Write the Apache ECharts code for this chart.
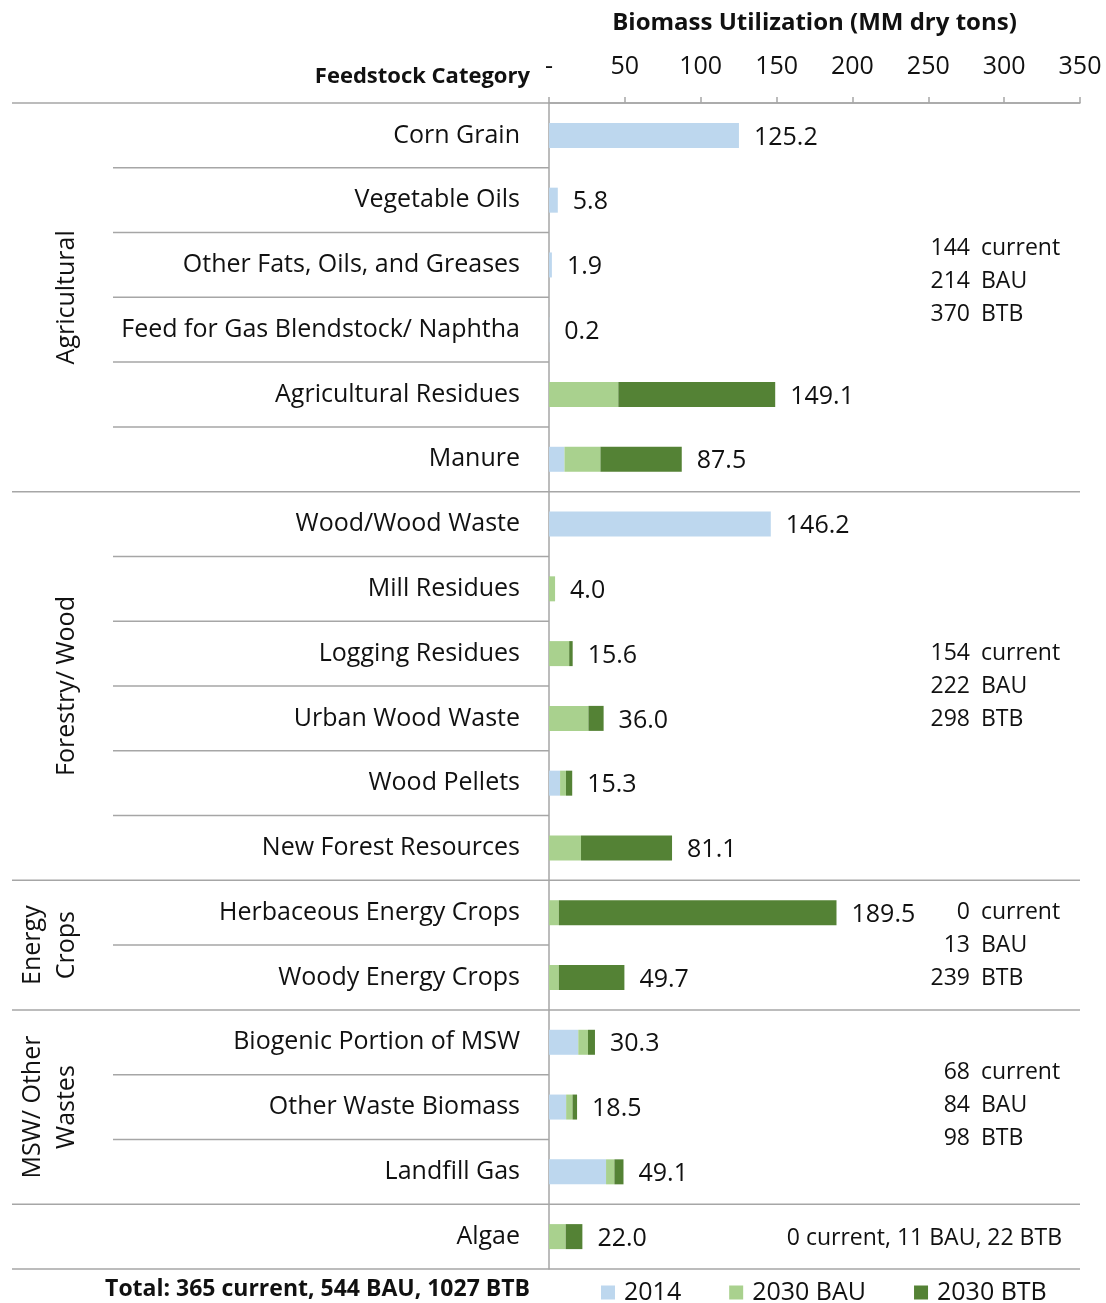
<!DOCTYPE html>
<html>
<head>
<meta charset="utf-8">
<script src="https://cdn.jsdelivr.net/npm/echarts@6/dist/echarts.min.js"></script>
<style>
html,body{margin:0;padding:0;background:#fff;}
#main{width:1106px;height:1303px;}
</style>
</head>
<body>
<div id="main"></div>
<script>
var categories = ['Corn Grain','Vegetable Oils','Other Fats, Oils, and Greases','Feed for Gas Blendstock/ Naphtha','Agricultural Residues','Manure','Wood/Wood Waste','Mill Residues','Logging Residues','Urban Wood Waste','Wood Pellets','New Forest Resources','Herbaceous Energy Crops','Woody Energy Crops','Biogenic Portion of MSW','Other Waste Biomass','Landfill Gas','Algae'];
var current2014 = [125.2, 5.8, 1.9, 0.2, 0, 10.2, 146.2, 0, 0, 0, 7.3, 0, 0, 0, 19.3, 11.3, 37.6, 0];
var bau2030 = [0, 0, 0, 0, 45.7, 23.7, 0, 4.0, 13.3, 26.0, 3.9, 21.1, 6.5, 6.5, 6.4, 4.2, 5.5, 11.0];
var btb2030 = [0, 0, 0, 0, 103.4, 53.6, 0, 0, 2.3, 10.0, 4.1, 60.0, 183.0, 43.2, 4.6, 3.0, 6.0, 11.0];
var totals = [125.2, 5.8, 1.9, 0.2, 149.1, 87.5, 146.2, 4.0, 15.6, 36.0, 15.3, 81.1, 189.5, 49.7, 30.3, 18.5, 49.1, 22.0];
var xTicks = ['-', '50', '100', '150', '200', '250', '300', '350'];
var seriesNames = ['2014', '2030 BAU', '2030 BTB'];
var groupNames = ['Agricultural', 'Forestry/ Wood', 'Energy\nCrops', 'MSW/ Other\nWastes', ''];
var groupStart = [0, 6, 12, 14, 17];
var groupEnd = [5, 11, 13, 16, 17];
var groupCurrent = ['144', '154', '0', '68'];
var groupBAU = ['214', '222', '13', '84'];
var groupBTB = ['370', '298', '239', '98'];
var algaeNote = '0 current, 11 BAU, 22 BTB';
var totalNote = 'Total: 365 current, 544 BAU, 1027 BTB';

var FONT = '"Open Sans", sans-serif';
var colors = ['#BDD7EE', '#A9D18E', '#548235'];
var lineColor = '#A6A6A6';
var ink = '#111';

var chart = echarts.init(document.getElementById('main'));
var option = {
  animation: false,
  textStyle: {fontFamily: FONT, color: ink},
  grid: {left: 549, right: 26, top: 103, height: 1166},
  legend: {
    data: seriesNames,
    left: 596, top: 1275,
    itemWidth: 14, itemHeight: 14, icon: 'rect', itemGap: 48,
    textStyle: {fontFamily: FONT, fontSize: 25, color: ink, padding: [0, 0, 0, 4]}
  },
  xAxis: {
    type: 'value', position: 'top', min: 0, max: 350, interval: 50,
    axisLine: {show: true, lineStyle: {color: lineColor, width: 1.5}},
    axisTick: {show: true, length: 6, lineStyle: {color: lineColor, width: 1.5}},
    splitLine: {show: false},
    axisLabel: {
      fontFamily: FONT, fontSize: 25, color: ink, margin: 24,
      formatter: function (v) { return xTicks[Math.round(v / 50)]; }
    }
  },
  yAxis: {
    type: 'category', data: categories, inverse: true,
    axisLine: {show: true, lineStyle: {color: lineColor, width: 1.5}},
    axisTick: {show: false},
    axisLabel: {fontFamily: FONT, fontSize: 25, color: ink, margin: 29}
  },
  series: [
    {name: seriesNames[0], type: 'bar', stack: 't', barWidth: 25, data: current2014, itemStyle: {color: colors[0]}},
    {name: seriesNames[1], type: 'bar', stack: 't', barWidth: 25, data: bau2030, itemStyle: {color: colors[1]}},
    {name: seriesNames[2], type: 'bar', stack: 't', barWidth: 25, data: btb2030, itemStyle: {color: colors[2]}},
    {
      name: 'totals', type: 'scatter', symbolSize: 0, silent: true,
      itemStyle: {opacity: 1},
      data: totals.map(function (t, i) { return [t, i]; }),
      label: {
        show: true, position: 'right', distance: 15, offset: [0, 2],
        fontFamily: FONT, fontSize: 25, color: ink,
        formatter: function (p) { return p.value[0].toFixed(1); }
      }
    }
  ]
};
chart.setOption(option);

function yOf(i) { return chart.convertToPixel({yAxisIndex: 0}, categories[i]); }
var band = yOf(1) - yOf(0);
function topOf(i) { return yOf(i) - band / 2; }
function botOf(i) { return yOf(i) + band / 2; }
var x0 = chart.convertToPixel({xAxisIndex: 0}, 0);
var xMax = chart.convertToPixel({xAxisIndex: 0}, 350);

var g = [];
function hline(x1, x2, y) {
  g.push({type: 'line', shape: {x1: x1, y1: y, x2: x2, y2: y}, style: {stroke: lineColor, lineWidth: 1.5}, silent: true});
}
function text(x, y, s, opts) {
  var st = Object.assign({text: s, fill: ink, font: '25px ' + FONT, align: 'left', verticalAlign: 'middle'}, opts || {});
  g.push({type: 'text', x: x, y: y, style: st, silent: true});
}

// group separators (full width)
hline(12, xMax, topOf(0));
for (var k = 0; k < groupEnd.length; k++) {
  hline(12, xMax, botOf(groupEnd[k]));
  for (var r = groupStart[k]; r < groupEnd[k]; r++) {
    hline(113, x0, botOf(r));
  }
  if (groupNames[k]) {
    var cy = (topOf(groupStart[k]) + botOf(groupEnd[k])) / 2;
    var twoLine = groupNames[k].indexOf('\n') >= 0;
    g.push({
      type: 'text', x: twoLine ? 50 : 67, y: cy, rotation: Math.PI / 2, silent: true,
      style: {text: groupNames[k], fill: ink, font: '25px ' + FONT, align: 'center', verticalAlign: 'middle', lineHeight: 34}
    });
  }
}
// group annotations
var noteOffsets = [-16, 0, 0, -2];
for (var k2 = 0; k2 < 4; k2++) {
  var c = (topOf(groupStart[k2]) + botOf(groupEnd[k2])) / 2 + noteOffsets[k2];
  var rows = [[groupCurrent[k2], 'current'], [groupBAU[k2], 'BAU'], [groupBTB[k2], 'BTB']];
  for (var j = 0; j < 3; j++) {
    var yy = c + (j - 1) * 33;
    text(970, yy, rows[j][0], {align: 'right', font: '23px ' + FONT});
    text(981, yy, rows[j][1], {align: 'left', font: '23px ' + FONT});
  }
}
text(1062, yOf(17) + 2, algaeNote, {align: 'right', font: '23px ' + FONT});

// headers
text((x0 + xMax) / 2, 23, 'Biomass Utilization (MM dry tons)', {align: 'center', font: 'bold 24px ' + FONT});
text(530, 77, 'Feedstock Category', {align: 'right', font: 'bold 22px ' + FONT});
text(530, 1289, totalNote, {align: 'right', font: 'bold 23px ' + FONT});

chart.setOption({graphic: g});
</script>
</body>
</html>
